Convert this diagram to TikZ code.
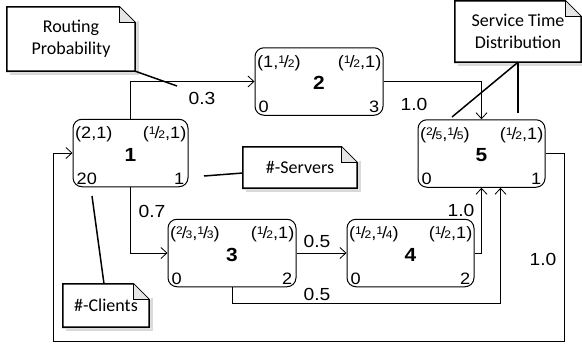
\documentclass[tikz,border=0pt]{standalone}
\usepackage{fontspec}
\setmainfont{Liberation Sans}[FakeStretch=1.1]
\newfontfamily\callfont{Carlito}
\usetikzlibrary{arrows.meta}
\newcommand\fr[2]{\raisebox{0.45ex}{\fontsize{11}{11}\selectfont #1}\kern-0.07em/\kern-0.07em{\fontsize{11}{11}\selectfont #2}}
\newcommand\qnode[8]{%
  \node[qbox, minimum width=#3] (#1) at #2 {};
  \node[lab, anchor=base west] (#1tl) at ([xshift=2.5pt,yshift=-20pt]#1.north west) {#4};
  \node[lab, anchor=base east] (#1tr) at ([xshift=-2pt,yshift=-20pt]#1.north east) {#5};
  \node[numlab, anchor=base] (#1c) at ([yshift=-8pt]#1.center) {#6};
  \node[lab, anchor=base west] (#1bl) at ([xshift=4pt,yshift=3pt]#1.south west) {#7};
  \node[lab, anchor=base east] (#1br) at ([xshift=-4pt,yshift=3pt]#1.south east) {#8};
}
\newcommand\notebox[1]{%
  \draw[black!15, line width=2pt] ([xshift=3pt,yshift=-14pt]#1.north east) -- ([xshift=3pt,yshift=-3pt]#1.south east) -- ([xshift=3pt,yshift=-3pt]#1.south west);
  \draw[noteline] (#1.north west) -- ([xshift=-16pt]#1.north east) -- ([yshift=-16pt]#1.north east) -- (#1.south east) -- (#1.south west) -- cycle;
  \draw[line width=1.1pt, fill=black!10] ([xshift=-16pt]#1.north east) -- ([xshift=-16pt,yshift=-16pt]#1.north east) -- ([yshift=-16pt]#1.north east);
}
\begin{document}
\begin{tikzpicture}[x=1pt,y=-1pt,
  qbox/.style={draw, line width=1pt, rounded corners=9pt, minimum height=67.5pt, inner sep=0pt},
  lab/.style={inner sep=0pt, font=\fontsize{16.5}{16.5}\selectfont},
  numlab/.style={inner sep=0pt, font=\fontsize{19}{19}\selectfont\bfseries},
  elab/.style={inner sep=0pt, font=\fontsize{17.5}{17.5}\selectfont},
  arr/.style={line width=0.8pt, -{Straight Barb[length=6pt,width=11pt]}},
  notetext/.style={inner sep=0pt, align=center, font=\callfont\fontsize{18}{22}\selectfont},
  notearea/.style={inner sep=0pt, minimum width=#1},
  noteline/.style={line width=1.6pt},
  pointer/.style={line width=1.5pt}]
\useasboundingbox (0,0) rectangle (582,348);

% queue nodes
\qnode{n1}{(130.5,153)}{115pt}{(2,1)}{(\fr12,1)}{1}{20}{1}
\qnode{n2}{(319,81.5)}{128pt}{(1,\fr12)}{(\fr12,1)}{2}{0}{3}
\qnode{n3}{(232,253)}{128pt}{(\fr23,\fr13)}{(\fr12,1)}{3}{0}{2}
\qnode{n4}{(410.5,253)}{127pt}{(\fr12,\fr14)}{(\fr12,1)}{4}{0}{2}
\qnode{n5}{(481.5,153.5)}{127pt}{(\fr25,\fr15)}{(\fr12,1)}{5}{0}{1}

% connectors
\draw[arr] (n1.north) |- (n2.west);
\draw[arr] (n2.east) -| (n5.north);
\draw[arr] (n1.south) |- (n3.west);
\draw[arr] (n3.east) -- (n4.west);
\draw[arr] (n4.east) -| (n5.south);
\draw[arr] (n3.south) -- ++(0,16) -| ([xshift=19pt]n5.south);
\coordinate (r2) at (564,341);
\coordinate (r3) at (53,341);
\draw[arr] (n5.east) -| (r2) -- (r3) |- (n1.west);

% edge labels
\node[elab] (l12) at (202,98) {0.3};
\node[elab] (l25) at (414,104) {1.0};
\node[elab] (l13) at (152,211) {0.7};
\node[elab] (l34) at (317,241) {0.5};
\node[elab] (l45) at (461,210) {1.0};
\node[elab] (l35) at (317,294) {0.5};
\node[elab] (l51) at (543,259) {1.0};

% callouts
\node[notearea=128pt, minimum height=64pt] (c1) at (71,39) {};
\node[notetext] (c1t) at (c1.center) {Routing\\Probability};
\notebox{c1}
\coordinate (p1) at (177,86);
\draw[pointer] (c1.south east) -- (p1);

\node[notearea=114pt, minimum height=41pt] (c2) at (300,167.5) {};
\node[notetext] (c2t) at (c2.center) {\#-Servers};
\notebox{c2}
\coordinate (p2) at (204,176);
\draw[pointer] ([yshift=-5.5pt]c2.west) -- (p2);

\node[notearea=126pt, minimum height=61pt] (c3) at (518,31.5) {};
\node[notetext] (c3t) at (c3.center) {Service Time\\Distribution};
\notebox{c3}
\coordinate (p3a) at (452,117);
\coordinate (p3b) at (518,113);
\draw[pointer] (c3.south) -- (p3a);
\draw[pointer] (c3.south) -- (p3b);

\node[notearea=86pt, minimum height=43pt] (c4) at (106,305.5) {};
\node[notetext] (c4t) at (c4.center) {\#-Clients};
\notebox{c4}
\coordinate (p4) at (92,196);
\draw[pointer] ([xshift=-2pt]c4.north) -- (p4);
\end{tikzpicture}
\end{document}
